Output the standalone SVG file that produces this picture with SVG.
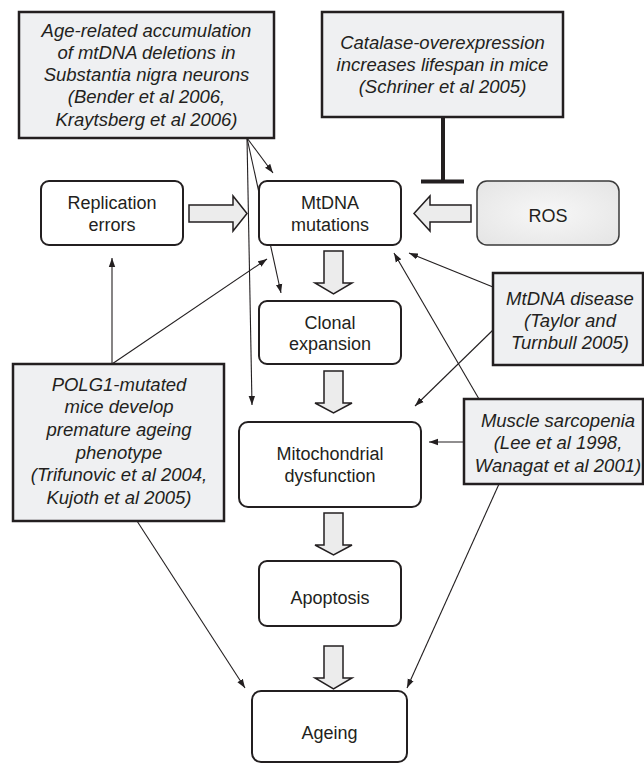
<svg xmlns="http://www.w3.org/2000/svg" width="644" height="765" viewBox="0 0 644 765">
<style>
.node{fill:#fff;stroke:#231f20;stroke-width:2}
.ev{fill:#eff0f2;stroke:#231f20;stroke-width:2.5}
.blk{fill:#ececec;stroke:#231f20;stroke-width:1.5;stroke-linejoin:miter}
.t{font-family:"Liberation Sans",Arial,sans-serif;font-size:18px;fill:#231f20;text-anchor:middle}
.i{font-style:italic;font-size:18.5px}
.c{fill:none;stroke:#231f20;stroke-width:1.1}
</style>
<defs>
<marker id="ah" markerUnits="userSpaceOnUse" markerWidth="10" markerHeight="8" refX="9" refY="4" orient="auto">
<path d="M0,0.8 L9,4 L0,7.2 Z" fill="#231f20"/>
</marker>
<radialGradient id="rg" cx="50%" cy="50%" r="70%">
<stop offset="0" stop-color="#f7f7f7"/>
<stop offset="1" stop-color="#e4e4e4"/>
</radialGradient>
</defs>
<g id="connectors">
<line class="c" x1="247" y1="138" x2="273" y2="173" marker-end="url(#ah)"/>
<line class="c" x1="247" y1="138" x2="281" y2="293" marker-end="url(#ah)"/>
<line class="c" x1="247" y1="138" x2="252" y2="405" marker-end="url(#ah)"/>
<line class="c" x1="112" y1="364" x2="112" y2="258" marker-end="url(#ah)"/>
<line class="c" x1="112" y1="364" x2="267" y2="259" marker-end="url(#ah)"/>
<line class="c" x1="493" y1="287" x2="409" y2="253" marker-end="url(#ah)"/>
<line class="c" x1="493" y1="330" x2="415" y2="406" marker-end="url(#ah)"/>
<line class="c" x1="464" y1="442" x2="429" y2="442" marker-end="url(#ah)"/>
<line class="c" x1="479" y1="399" x2="394" y2="253" marker-end="url(#ah)"/>
<line class="c" x1="137" y1="521" x2="245" y2="688" marker-end="url(#ah)"/>
<line class="c" x1="499" y1="484" x2="407" y2="688" marker-end="url(#ah)"/>
<line x1="443" y1="117" x2="443" y2="181" stroke="#231f20" stroke-width="4"/>
<line x1="421" y1="181.5" x2="464" y2="181.5" stroke="#231f20" stroke-width="4"/>
<polygon class="blk" points="189,205 233,205 233,196 247,213.5 233,231 233,222 189,222"/>
<polygon class="blk" points="471,205 430,205 430,196 414,213.5 430,231 430,222 471,222"/>
<polygon class="blk" points="324,251 343,251 343,283 352,283 333.5,294 315,283 324,283"/>
<polygon class="blk" points="324,371 343,371 343,403 352,403 333.5,413 315,403 324,403"/>
<polygon class="blk" points="324,513 343,513 343,545 352,545 333.5,555 315,545 324,545"/>
<polygon class="blk" points="324,646 343,646 343,678 352,678 333.5,689 315,678 324,678"/>
</g>
<g id="age-related">
<rect class="ev" x="19" y="12" width="255" height="126"/>
<text class="t i" x="146.5" y="36.5">Age-related accumulation</text>
<text class="t i" x="146.5" y="58.8">of mtDNA deletions in</text>
<text class="t i" x="146.5" y="81.1">Substantia nigra neurons</text>
<text class="t i" x="146.5" y="103.4">(Bender et al 2006,</text>
<text class="t i" x="146.5" y="125.7">Kraytsberg et al 2006)</text>
</g>
<g id="catalase">
<rect class="ev" x="322" y="12" width="241" height="105"/>
<text class="t i" x="442.5" y="48.5">Catalase-overexpression</text>
<text class="t i" x="442.5" y="70.8">increases lifespan in mice</text>
<text class="t i" x="442.5" y="93">(Schriner et al 2005)</text>
</g>
<g id="replication">
<rect class="node" x="41" y="181" width="142" height="64" rx="8"/>
<text class="t" x="112" y="208.5">Replication</text>
<text class="t" x="112" y="230.5">errors</text>
</g>
<g id="mtdna">
<rect class="node" x="259" y="181" width="142" height="64" rx="8"/>
<text class="t" x="330" y="208.5">MtDNA</text>
<text class="t" x="330" y="230.5">mutations</text>
</g>
<g id="ros">
<rect x="477" y="181" width="142" height="64" rx="10" fill="url(#rg)" stroke="#3a3a3a" stroke-width="1.5"/>
<text class="t" x="548" y="221.5">ROS</text>
</g>
<g id="clonal">
<rect class="node" x="259" y="301" width="142" height="63" rx="8"/>
<text class="t" x="330" y="328.5">Clonal</text>
<text class="t" x="330" y="349.5">expansion</text>
</g>
<g id="dysfunction">
<rect class="node" x="239" y="422" width="182" height="85" rx="9"/>
<text class="t" x="330" y="459.5">Mitochondrial</text>
<text class="t" x="330" y="481.5">dysfunction</text>
</g>
<g id="apoptosis">
<rect class="node" x="259" y="561" width="142" height="65" rx="8"/>
<text class="t" x="330" y="603.5">Apoptosis</text>
</g>
<g id="ageing">
<rect class="node" x="252" y="691" width="155" height="71" rx="9"/>
<text class="t" x="329.5" y="738.5">Ageing</text>
</g>
<g id="polg1">
<rect class="ev" x="13" y="364" width="211" height="157"/>
<text class="t i" x="119" y="390.5">POLG1-mutated</text>
<text class="t i" x="119" y="413">mice develop</text>
<text class="t i" x="119" y="436">premature ageing</text>
<text class="t i" x="119" y="458.5">phenotype</text>
<text class="t i" x="119" y="481">(Trifunovic et al 2004,</text>
<text class="t i" x="119" y="504">Kujoth et al 2005)</text>
</g>
<g id="mtdna-disease">
<rect class="ev" x="493" y="273" width="150" height="92"/>
<text class="t i" x="570" y="304.5">MtDNA disease</text>
<text class="t i" x="570" y="326.5">(Taylor and</text>
<text class="t i" x="570" y="348.5">Turnbull 2005)</text>
</g>
<g id="sarcopenia">
<rect class="ev" x="464" y="399" width="179" height="85"/>
<text class="t i" x="558" y="426.5">Muscle sarcopenia</text>
<text class="t i" x="558" y="449">(Lee et al 1998,</text>
<text class="t i" x="558" y="471.5">Wanagat et al 2001)</text>
</g>
</svg>
